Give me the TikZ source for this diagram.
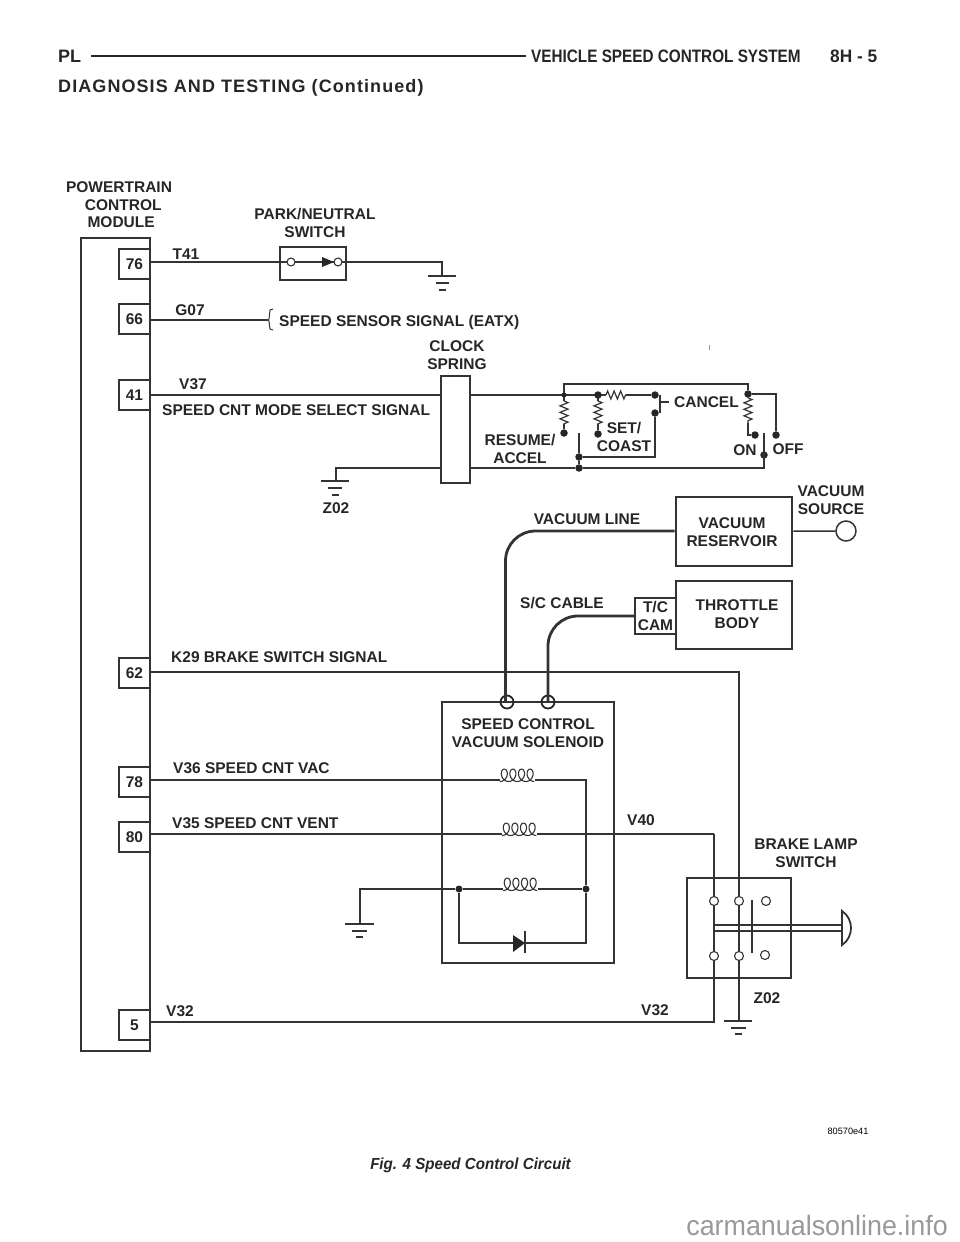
\documentclass[tikz,border=0pt]{standalone}
\usepackage{fontspec}
\setmainfont{Liberation Sans}
\usetikzlibrary{positioning}
\usetikzlibrary{decorations.pathmorphing}
\tikzset{
 lbl/.style={font=\bfseries\fontsize{15.5}{17.5}\selectfont,align=center,text=black!85,inner sep=0pt},
 head/.style={font=\bfseries\fontsize{18}{20}\selectfont,text=black!85,inner sep=0pt},
 pinbox/.style={draw=black!80,line width=1.4pt,minimum width=31pt,minimum height=30pt,inner sep=0pt,font=\bfseries\fontsize{15.5}{17}\selectfont,text=black!85},
 wire/.style={draw=black!80,line width=1.5pt},
 hose/.style={draw=black!80,line width=2.8pt,rounded corners=30pt},
 frame/.style={draw=black!80,line width=2.9pt},
 solid dot/.style={circle,fill=black!85,draw=none,minimum size=7pt,inner sep=0pt},
 small dot/.style={circle,fill=black!85,draw=none,minimum size=7.5pt,inner sep=0pt},
 open dot/.style={circle,fill=white,draw=black!80,line width=1.1pt,minimum size=9pt,inner sep=0pt},
 resist/.style={wire,line width=1.2pt,decorate,decoration={zigzag,amplitude=4pt,segment length=6.5pt}},
 coilw/.style={wire,line width=1.1pt,smooth},
}
% four turns sitting on a wire
\newcommand{\coilsym}[1]{\draw[coilw,shift={(#1)}] plot[domain=0:1440,samples=97] ({\x/360*8.6+5*sin(\x)},{1.5-6.2*(1-cos(\x))});}
\begin{document}
\begin{tikzpicture}[x=1pt,y=-1pt]
 \useasboundingbox (0,0) rectangle (960,1242);
 % page header
 \node[head,anchor=west] (pl) at (58,56) {PL};
 \node[head,anchor=west] (title) at (531,56) {\addfontfeature{FakeStretch=0.85}VEHICLE SPEED CONTROL SYSTEM};
 \node[head,anchor=west] (page) at (830,56) {\addfontfeature{FakeStretch=0.96}8H - 5};
 \draw[black!85,line width=2pt] ([xshift=10pt]pl.east) -- ([xshift=-5pt]title.west);
 \node[head,anchor=west] (cont) at (58,88) {\addfontfeature{LetterSpace=6}DIAGNOSIS AND TESTING (Continued)};
 % module and pins
 \draw[frame] (81,238) rectangle (150,1051);
 \node[lbl] (pcm) at (119,205) {POWERTRAIN\\\ \ CONTROL\\\ MODULE};
 \node[pinbox] (p76) at (134.5,264) {76};
 \node[pinbox] (p66) at (134.5,319) {66};
 \node[pinbox] (p41) at (134.5,395) {41};
 \node[pinbox] (p62) at (134.5,673) {62};
 \node[pinbox] (p78) at (134.5,782) {78};
 \node[pinbox] (p80) at (134.5,837) {80};
 \node[pinbox] (p5) at (134.5,1025) {5};
 % park/neutral
 \node[lbl] at (186,254) {T41};
 \node[lbl] at (315,223) {PARK/NEUTRAL\\SWITCH};
 \node[frame,minimum width=66pt,minimum height=33pt] (park) at (313,263.5) {};
 \coordinate (pk1) at (291,262);
 \coordinate (pk2) at (338,262);
 \coordinate (gnda) at (442,276);
 \draw[wire] (150,262) -- (pk1) -- (pk2) -- (442,262) -- (gnda);
 \draw[fill=black!85,draw=none] (322,257) -- (334,262) -- (322,267) -- cycle;
 \node[open dot,minimum size=8pt] at (pk1) {};
 \node[open dot,minimum size=8pt] at (pk2) {};
 \draw[wire] (428,276) -- (456,276) (436,283) -- (449,283) (439,290) -- (446,290);
 % speed sensor
 \node[lbl] at (190,310) {G07};
 \node[lbl,anchor=west] (eatx) at (279,322) {SPEED SENSOR SIGNAL (EATX)};
 \draw[wire] (150,320) -- (268,320);
 \draw[wire,line width=1pt] (273,309) -- (270,310) -- (269,319) -- (268,320) -- (269,321) -- (270,329) -- (273,330);
 % clock spring
 \node[lbl] at (457,355) {CLOCK\\SPRING};
 \node[frame,minimum width=29pt,minimum height=107pt] (clock) at (455.5,429.5) {};
 \node[lbl] at (193,384) {V37};
 \node[lbl,anchor=west] at (162,410) {SPEED CNT MODE SELECT SIGNAL};
 \draw[wire] (150,395) -- (clock.west |- 0,395);
 \coordinate (n1) at (564,395);
 \coordinate (n2) at (598,395);
 \node[small dot] (c1) at (655,395) {};
 \node[small dot] (c2) at (655,413) {};
 \node[small dot] (r1) at (564,433) {};
 \node[small dot] (r2) at (598,434) {};
 \node[small dot] (s1) at (579,457) {};
 \node[small dot] (s2) at (579,468) {};
 \node[small dot] (rt) at (748,394) {};
 \node[small dot] (on) at (755,435) {};
 \node[small dot] (off) at (776,435) {};
 \node[small dot] (sw) at (764,455) {};
 \draw[wire] (470,395) -- (n1) -- (n2) -- (606,395);
 \draw[resist] (606,395) -- (626,395);
 \draw[wire] (626,395) -- (c1);
 \draw[wire] (n1) -- (564,401);
 \draw[resist] (564,401) -- (564,424);
 \draw[wire] (564,424) -- (r1);
 \draw[wire] (n2) -- (598,401);
 \draw[resist] (598,401) -- (598,424);
 \draw[wire] (598,424) -- (r2);
 \draw[wire] (n1) -- (564,384) -- (748,384) -- (rt);
 \draw[wire] (rt) -| (off);
 \draw[resist] (rt) -- (748,423);
 \draw[wire] (748,423) |- (on);
 \draw[wire] (c2) -- (655,457) -- (s1);
 \draw[wire] (579,433) -- (s1) -- (s2);
 \draw[wire] (470,468) -- (s2) -- (764,468) -- (764,433);
 \draw[wire] (660,395) -- (660,413) (660,402) -- (669,402);
 \node[circle,fill=black!85,minimum size=5pt,inner sep=0pt] at (n1) {};
 \node[small dot] at (n2) {};
 \node[lbl,anchor=west] at (674,402) {CANCEL};
 \node[lbl] at (520,449) {RESUME/\\ACCEL};
 \node[lbl] at (624,437) {SET/\\COAST};
 \node[lbl] at (745,450) {ON};
 \node[lbl] at (788,449) {OFF};
 \draw[wire] (441,468) -- (336,468) -- (336,481);
 \draw[wire] (321,481) -- (349,481) (328,488) -- (342,488) (332,495) -- (339,495);
 \node[lbl] at (336,508) {Z02};
 % vacuum side
 \node[frame,line width=2.6pt,minimum width=116pt,minimum height=69pt,align=center] (res) at (734,531.5) {};
 \node[lbl] at (732,532) {VACUUM\\RESERVOIR};
 \node[lbl] at (831,500) {VACUUM\\SOURCE};
 \node[circle,draw=black!80,line width=1.5pt,minimum size=20pt,inner sep=0pt] (src) at (846,531) {};
 \draw[wire] (res) -- (src);
 \node[frame,line width=2.6pt,minimum width=116pt,minimum height=68pt] (thr) at (734,615) {};
 \node[lbl] at (737,614) {THROTTLE\\BODY};
 \node[frame,line width=2.4pt,minimum width=41pt,minimum height=36pt] (cam) at (655.5,616) {};
 \node[lbl] at (655.5,616) {T/C\\CAM};
 \node[lbl] at (587,519) {VACUUM LINE};
 \node[lbl] at (562,603) {S/C CABLE};
 % solenoid
 \node[frame,minimum width=172pt,minimum height=261pt] (sol) at (528,832.5) {};
 \node[lbl] at (528,733) {SPEED CONTROL\\VACUUM SOLENOID};
 \node[circle,draw=black!85,line width=1.8pt,fill=none,minimum size=13pt,inner sep=0pt] (va) at (507,702) {};
 \node[circle,draw=black!85,line width=1.8pt,fill=none,minimum size=13pt,inner sep=0pt] (vb) at (548,702) {};
 \draw[hose] (res.west |- 0,531) -- (505.5,531) -- (505.5,702);
 \draw[hose] (cam.west) -- (548,616) -- (548,702);
 % brake switch wire
 \node[lbl,anchor=west] at (171,657) {K29 BRAKE SWITCH SIGNAL};
 \node[lbl,anchor=west] at (173,768) {V36 SPEED CNT VAC};
 \node[lbl,anchor=west] at (172,823) {V35 SPEED CNT VENT};
 \node[lbl] at (641,820) {V40};
 \node[lbl] at (180,1011) {V32};
 \node[lbl] at (655,1010) {V32};
 \node[lbl] at (806,853) {BRAKE LAMP\\SWITCH};
 \node[lbl] at (767,998) {Z02};
 \coordinate (k1) at (500,780);
 \coordinate (k2) at (535,780);
 \coordinate (k3) at (502,834);
 \coordinate (k4) at (537,834);
 \coordinate (k5) at (503,889);
 \coordinate (k6) at (538,889);
 \node[solid dot] (d1) at (459,889) {};
 \node[solid dot] (d2) at (586,889) {};
 \draw[wire] (150,780) -- (k1);
 \coilsym{k1}
 \draw[wire] (k2) -- (586,780) -- (d2);
 \draw[wire] (150,834) -- (k3);
 \coilsym{k3}
 \draw[wire] (k4) -- (714,834);
 \draw[wire] (360,924) -- (360,889) -- (d1) -- (k5);
 \coilsym{k5}
 \draw[wire] (k6) -- (d2);
 \draw[wire] (d1) -- (459,943) -- (513,943);
 \draw[wire] (525,943) -- (586,943) -- (d2);
 \draw[fill=black!85,draw=none] (513,935) -- (525,943) -- (513,952) -- cycle;
 \draw[wire] (525,931) -- (525,953);
 \draw[wire] (345,924) -- (374,924) (352,931) -- (367,931) (356,937) -- (363,937);
 % brake lamp switch
 \node[frame,minimum width=104pt,minimum height=100pt] (brake) at (739,928) {};
 \coordinate (ga) at (739,1021);
 \draw[wire] (150,672) -- (739,672) -- (ga);
 \draw[wire] (714,834) -- (714,1022) -- (150,1022);
 \draw[wire] (724,1021) -- (752,1021) (731,1028) -- (746,1028) (735,1034) -- (742,1034);
 \draw[wire,line width=1.6pt] (714,925) -- (842,925) (714,931) -- (842,931);
 \draw[wire,line width=2pt] (752,900) -- (752,953);
 \draw[wire,line width=1.8pt] (842,911) .. controls (854,919) and (854,937) .. (842,945) -- cycle;
 \node[open dot] at (714,901) {};
 \node[open dot] at (739,901) {};
 \node[open dot] at (766,901) {};
 \node[open dot] at (714,956) {};
 \node[open dot] at (739,956) {};
 \node[open dot] at (765,955) {};
 % bottom
 \draw[black!40,line width=.5pt] (709,345) -- (709,350);
 \node[font=\fontsize{9.2}{11}\selectfont,inner sep=0pt] at (848,1131) {80570e41};
 \node[font=\bfseries\itshape\fontsize{16}{18}\selectfont,inner sep=0pt,text=black!85] at (470.5,1165) {\addfontfeature{FakeStretch=0.945}Fig. 4 Speed Control Circuit};
 \node[font=\fontsize{28}{30}\selectfont,text=black!40,anchor=base east,inner sep=0pt] at (948,1235) {\addfontfeature{FakeStretch=0.96}carmanualsonline.info};
\end{tikzpicture}
\end{document}
